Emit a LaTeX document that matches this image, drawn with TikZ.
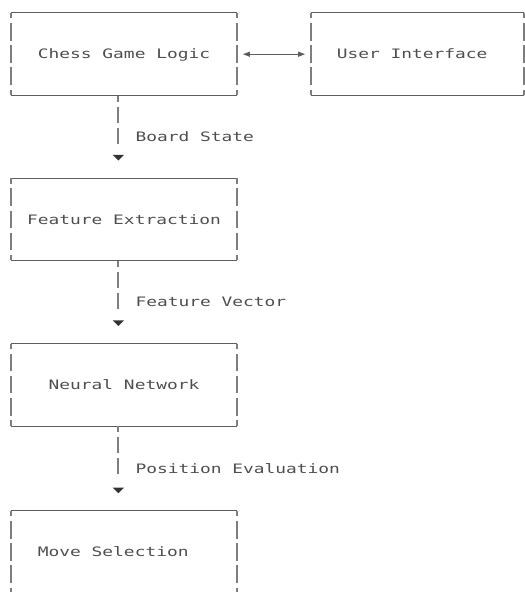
\documentclass[tikz,border=0pt]{standalone}
\usepackage{fontspec}
\newfontfamily\diagfont[FakeStretch=1.375]{DejaVu Sans Mono}
\usetikzlibrary{arrows.meta}

\definecolor{inkline}{HTML}{5E5E5E}
\definecolor{barline}{HTML}{7E7E7E}
\definecolor{inktext}{HTML}{4E4E4E}
\definecolor{tipfill}{HTML}{333333}

\tikzset{
  monotext/.style={font=\diagfont\fontsize{13}{15}\selectfont, text=inktext,
    text height=9.5pt, text depth=0pt},
  boxnode/.style={monotext, inner sep=0pt, minimum height=82.4pt},
  hrule/.style={draw=inkline, line width=1pt},
  side/.style={draw=barline, line width=2.1pt,
    dash pattern=on 5.6pt off 4.65pt on 17.5pt off 4.65pt on 17.5pt off 4.65pt
                 on 17.5pt off 4.65pt on 5.6pt off 10pt},
  flow/.style={draw=barline, line width=2.1pt,
    dash pattern=on 6pt off 5pt on 16pt off 5pt on 16pt off 40pt,
    shorten >=17.5pt, -{Triangle[length=5.7pt,width=11pt,color=tipfill]}},
  link/.style={draw=inkline, line width=1pt, shorten <=5.7pt, shorten >=5.7pt,
    {Triangle[length=7pt,width=5pt]}-{Triangle[length=7pt,width=5pt]}},
  lbl/.style={monotext, inner sep=0pt, anchor=west},
}

% solid top and bottom rules, broken vertical sides
\newcommand\compframe[1]{%
  \draw[hrule] (#1.north west) -- (#1.north east);
  \draw[hrule] (#1.south west) -- (#1.south east);
  \draw[side] (#1.north west) -- (#1.south west);
  \draw[side] (#1.north east) -- (#1.south east);}

\begin{document}
\begin{tikzpicture}[x=1pt,y=-1pt]
\useasboundingbox (0,0) rectangle (525,592);
\clip (0,0) rectangle (525,592);

% components
\node[boxnode, minimum width=226pt] (logic) at (124,54.2) {Chess Game Logic};
\node[boxnode, minimum width=213pt] (ui)    at (417.5,54.2) {User Interface\hphantom{x}};
\node[boxnode, minimum width=226pt] (feat)  at (124,219.5) {Feature Extraction};
\node[boxnode, minimum width=226pt] (nn)    at (124,384.9) {Neural Network};
\node[boxnode, minimum width=226pt] (move)  at (124,552.2) {Move Selection\hphantom{xx}};

\compframe{logic}
\compframe{ui}
\compframe{feat}
\compframe{nn}
\compframe{move}

% two-way link to the interface
\draw[link] (logic.east) -- (ui.west);

% pipeline
\draw[flow] ([xshift=107.6pt]logic.south west) -- ([xshift=107.6pt]feat.north west)
  node[lbl, pos=0.497, xshift=16.1pt] (l1) {Board State};
\draw[flow] ([xshift=107.6pt]feat.south west) -- ([xshift=107.6pt]nn.north west)
  node[lbl, pos=0.497, xshift=16.1pt] (l2) {Feature Vector};
\draw[flow] ([xshift=107.6pt]nn.south west) -- ([xshift=107.6pt]move.north west)
  node[lbl, pos=0.5, xshift=16.1pt] (l3) {Position Evaluation};
\end{tikzpicture}
\end{document}
